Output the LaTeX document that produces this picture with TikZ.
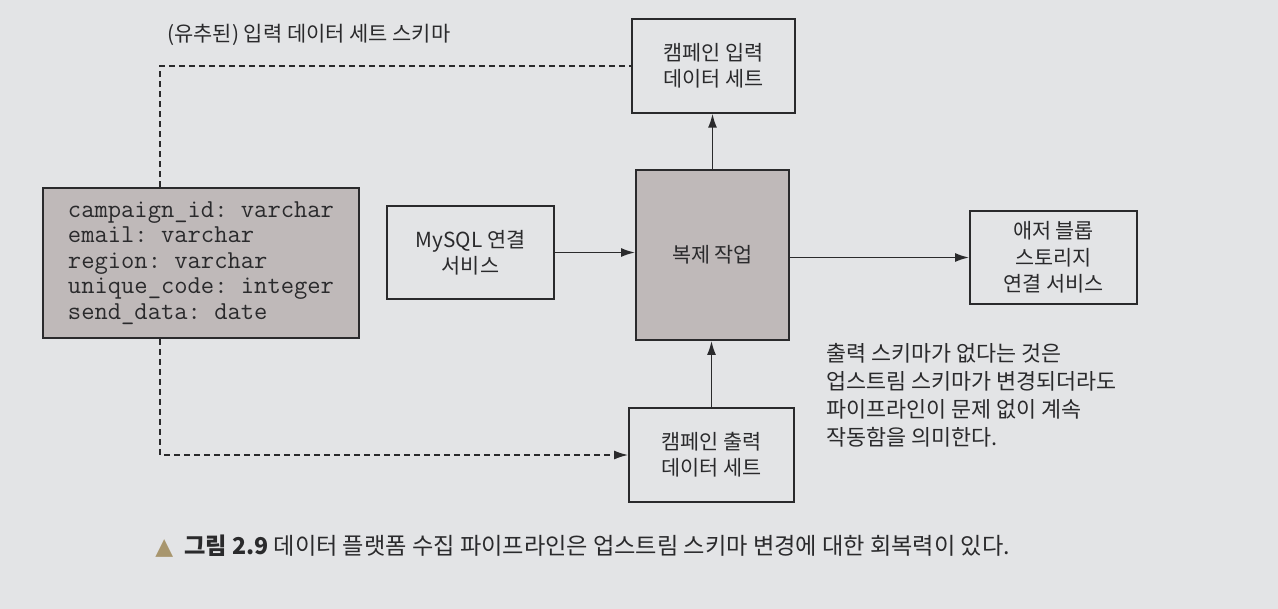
\documentclass[tikz,border=0pt]{standalone}
\usepackage{fontspec}
\setmainfont{Noto Sans CJK KR}
\newfontfamily\symfont{DejaVu Sans}
\usepackage{xcolor}
\definecolor{pagebg}{HTML}{E3E4E6}
\definecolor{boxgray}{HTML}{BFB9B9}
\definecolor{ink}{HTML}{2A2A2C}
\definecolor{tri}{HTML}{A8966E}
\usepackage{tikz}
\usetikzlibrary{arrows.meta,calc}
\frenchspacing
\tikzset{box/.style={draw=ink,line width=1.05pt,align=center,inner sep=0pt,text=ink,font=\fontsize{11.8}{15}\selectfont},arr/.style={-{Latex[length=2.8mm,width=1.8mm]},draw=ink,line width=0.95pt},dsh/.style={draw=ink,line width=0.9pt,dash pattern=on 1.2mm off 0.8mm}}

\begin{document}
\begin{tikzpicture}[note/.style={align=left,text=ink,inner sep=0pt,font=\fontsize{12.4}{16}\selectfont},lbl/.style={text=ink,inner sep=0pt,font=\fontsize{11.9}{13}\selectfont},captext/.style={text=ink,inner sep=0pt,font=\fontsize{13.2}{15}\selectfont},schemabox/.style={box,fill=boxgray,align=left,font=\ttfamily\fontsize{14.7}{14.5}\selectfont}]
\fill[pagebg] (0,0) rectangle (25.56,-12.18);
\node[schemabox,minimum width=6.32cm,minimum height=3cm] (schema) at (4.02,-5.26) {campaign\_id: varchar\\email: varchar\\region: varchar\\unique\_code: integer\\send\_data: date};
\node[box,minimum width=3.26cm,minimum height=1.87cm] (inbox) at (14.27,-1.32) {캠페인 입력\\데이터 세트};
\node[box,fill=boxgray,minimum width=3.06cm,minimum height=3.4cm] (job) at (14.25,-5.10) {복제 작업};
\node[box,minimum width=3.34cm,minimum height=1.86cm] (mysql) at (9.41,-5.05) {MySQL 연결\\서비스};
\node[box,minimum width=3.34cm,minimum height=1.86cm] (azure) at (21.07,-5.15) {애저 블롭\\스토리지\\연결 서비스};
\node[box,minimum width=3.3cm,minimum height=1.88cm] (outbox) at (14.23,-9.10) {캠페인 출력\\데이터 세트};
\node[lbl,anchor=west] (schemalbl) at (3.34,-0.70) {(유추된) 입력 데이터 세트 스키마};
\node[note,anchor=north west] (memo) at (16.52,-6.86) {출력 스키마가 없다는 것은\\업스트림 스키마가 변경되더라도\\파이프라인이 문제 없이 계속\\작동함을 의미한다.};
\node[captext,anchor=west] (caption) at (3.10,-10.92) {{\color{tri}\symfont ▲}\hspace{0.22cm}\textbf{그림 2.9} 데이터 플랫폼 수집 파이프라인은 업스트림 스키마 변경에 대한 회복력이 있다.};
\coordinate (sx) at (3.2,-0.5);
\draw[dsh] (schema.north -| sx) |- (inbox.west);
\draw[arr,dsh] (schema.south -| sx) |- (outbox.west);
\draw[arr] (mysql.east) -- (mysql.east -| job.west);\draw[arr] (azure.west -| job.east) -- (azure.west);
\draw[arr] (job.north) -- (job.north |- inbox.south);\draw[arr] (outbox.north) -- (outbox.north |- job.south);
\end{tikzpicture}
\end{document}
